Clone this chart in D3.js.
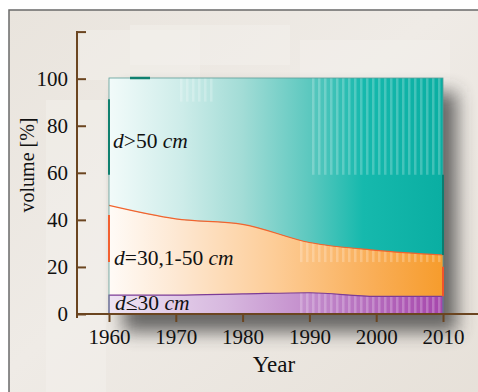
<!DOCTYPE html>
<html>
<head>
<meta charset="utf-8">
<script src="https://cdn.jsdelivr.net/npm/d3@7"></script>
<style>
  body { margin: 0; background: #fff; }
  text { font-family: "Liberation Serif", "Times New Roman", serif; fill: #111; }
</style>
</head>
<body>
<svg id="chart" width="478" height="392"></svg>
<script>
// data (share of volume, %)
var years  = [1960, 1970, 1980, 1990, 2000, 2010];
var small  = [8, 8, 8.5, 9, 7.5, 7.5];           // d <= 30 cm
var medium = [38, 32.3, 29.5, 21.3, 19.5, 17.5]; // d = 30,1-50 cm
var large  = [54, 59.7, 62, 69.7, 73, 75];       // d > 50 cm
var yTicks = [0, 20, 40, 60, 80, 100, 120];

var svg = d3.select("#chart");
var defs = svg.append("defs");

var x = d3.scaleLinear().domain([1960, 2010]).range([109, 443]);
var y = d3.scaleLinear().domain([0, 100]).range([314, 78]);

// ----- background -----
var bg = defs.append("linearGradient").attr("id", "bg")
    .attr("x1", 0).attr("y1", 0).attr("x2", 1).attr("y2", 1);
bg.append("stop").attr("offset", 0).attr("stop-color", "#e9e4dd");
bg.append("stop").attr("offset", 0.45).attr("stop-color", "#efebe6");
bg.append("stop").attr("offset", 1).attr("stop-color", "#e6e0d8");

svg.append("rect").attr("x", 0).attr("y", 0).attr("width", 478).attr("height", 392).attr("fill", "#fff");
svg.append("rect").attr("x", 9).attr("y", 10).attr("width", 480).attr("height", 400)
    .attr("fill", "url(#bg)").attr("stroke", "#6a6a6a").attr("stroke-width", 1.5);

// faint panels in the background
[[80, 30, 120, 50], [130, 25, 160, 40], [46, 100, 60, 440], [300, 40, 150, 60]].forEach(function(r) {
  svg.append("rect").attr("x", r[0]).attr("y", r[1]).attr("width", r[2]).attr("height", r[3])
      .attr("fill", "#f4f1ed").attr("opacity", 0.45);
});

// ----- drop shadow -----
var sh = defs.append("filter").attr("id", "shadow")
    .attr("x", "-20%").attr("y", "-20%").attr("width", "150%").attr("height", "150%");
sh.append("feGaussianBlur").attr("stdDeviation", 9);

svg.append("rect")
    .attr("x", x(1960) + 14).attr("y", y(100) + 14)
    .attr("width", x(2010) - x(1960)).attr("height", y(0) - y(100) + 4)
    .attr("fill", "#3a3a3a").attr("opacity", 0.75)
    .attr("filter", "url(#shadow)");

// ----- gradients for areas -----
function grad(id, stops) {
  var g = defs.append("linearGradient").attr("id", id)
      .attr("gradientUnits", "userSpaceOnUse")
      .attr("x1", x(1960)).attr("x2", x(2010)).attr("y1", 0).attr("y2", 0);
  stops.forEach(function(s) {
    g.append("stop").attr("offset", s[0]).attr("stop-color", s[1]);
  });
}
grad("gLarge", [[0, "#f2fbfa"], [0.22, "#cdece9"], [0.4, "#a2dcd6"], [0.6, "#5cc8bf"], [0.76, "#16b9ad"], [1, "#0aaea2"]]);
grad("gMedium", [[0, "#fffbf7"], [0.2, "#fde8d3"], [0.5, "#fdcc96"], [0.8, "#f9ad55"], [1, "#f69c2c"]]);
grad("gSmall", [[0, "#eee4f3"], [0.35, "#d7b8df"], [0.7, "#bb7bc4"], [1, "#a646ac"]]);

// stripe pattern used as texture
var pat = defs.append("pattern").attr("id", "stripes")
    .attr("patternUnits", "userSpaceOnUse").attr("width", 6).attr("height", 10);
pat.append("rect").attr("x", 0).attr("y", 0).attr("width", 2.5).attr("height", 10)
    .attr("fill", "#ffffff").attr("opacity", 0.22);

// ----- stacked areas -----
var rows = years.map(function(yr, i) {
  return { year: yr, small: small[i], medium: medium[i], large: large[i] };
});
var stack = d3.stack().keys(["small", "medium", "large"]);
var series = stack(rows);
var fills = { small: "url(#gSmall)", medium: "url(#gMedium)", large: "url(#gLarge)" };

var area = d3.area()
    .x(function(d) { return x(d.data.year); })
    .y0(function(d) { return y(d[0]); })
    .y1(function(d) { return y(d[1]); })
    .curve(d3.curveMonotoneX);

var plot = svg.append("g");
plot.selectAll("path.layer")
    .data(series)
    .enter().append("path")
    .attr("class", "layer")
    .attr("d", area)
    .attr("fill", function(s) { return fills[s.key]; });

// textured patches
var clipS = defs.append("clipPath").attr("id", "clipSmall");
clipS.append("path").attr("d", area(series[0]));
var clipM = defs.append("clipPath").attr("id", "clipMed");
clipM.append("path").attr("d", area(series[1]));

plot.append("rect").attr("x", 310).attr("y", y(100)).attr("width", x(2010) - 310).attr("height", y(59) - y(100))
    .attr("fill", "url(#stripes)");
plot.append("rect").attr("x", 298).attr("y", y(33)).attr("width", x(2010) - 298).attr("height", y(22) - y(33))
    .attr("fill", "url(#stripes)").attr("clip-path", "url(#clipMed)");
plot.append("rect").attr("x", 297).attr("y", y(12)).attr("width", x(2010) - 297).attr("height", y(0) - y(12))
    .attr("fill", "url(#stripes)").attr("clip-path", "url(#clipSmall)");
plot.append("rect").attr("x", 178).attr("y", y(100)).attr("width", 36).attr("height", y(90) - y(100))
    .attr("fill", "url(#stripes)");

// boundary lines
var line = d3.line()
    .x(function(d) { return x(d.data.year); })
    .y(function(d) { return y(d[1]); })
    .curve(d3.curveMonotoneX);
plot.append("path").attr("d", line(series[1])).attr("fill", "none")
    .attr("stroke", "#f2642e").attr("stroke-width", 1.2);
plot.append("path").attr("d", area(series[0])).attr("fill", "none")
    .attr("stroke", "#7c3c96").attr("stroke-width", 1.2);
plot.append("rect").attr("x", x(1960)).attr("y", y(100)).attr("width", x(2010) - x(1960)).attr("height", y(0) - y(100))
    .attr("fill", "none").attr("stroke", "#5d9e98").attr("stroke-width", 0.8);

// edge accents
plot.append("line").attr("x1", x(1960)).attr("x2", x(1960)).attr("y1", y(91)).attr("y2", y(59))
    .attr("stroke", "#10806f").attr("stroke-width", 2);
plot.append("line").attr("x1", x(1960)).attr("x2", x(1960)).attr("y1", y(42)).attr("y2", y(22))
    .attr("stroke", "#f26030").attr("stroke-width", 2);
plot.append("line").attr("x1", 130).attr("x2", 150).attr("y1", y(100)).attr("y2", y(100))
    .attr("stroke", "#10806f").attr("stroke-width", 2.5);
plot.append("line").attr("x1", x(2010)).attr("x2", x(2010)).attr("y1", y(59)).attr("y2", y(25))
    .attr("stroke", "#0b7d70").attr("stroke-width", 2);
plot.append("line").attr("x1", x(2010)).attr("x2", x(2010)).attr("y1", y(20)).attr("y2", y(7.5))
    .attr("stroke", "#f2542a").attr("stroke-width", 2);

// ----- axes -----
var axisColor = "#6b4520";
var yAxis = svg.append("g").attr("transform", "translate(77,0)")
    .call(d3.axisLeft(y.copy().domain([0, 120]).range([314, 31.6]))
      .tickValues(yTicks).tickSizeInner(-9).tickSizeOuter(0).tickPadding(9)
      .tickFormat(function(d) { return d === 120 ? "" : d; }));
yAxis.select(".domain").remove();
yAxis.selectAll(".tick line").attr("stroke", axisColor).attr("stroke-width", 2);
yAxis.selectAll(".tick text").attr("font-size", 21).attr("font-family", "Liberation Serif").attr("fill", "#111");
svg.append("line").attr("x1", 77).attr("x2", 77).attr("y1", 31).attr("y2", 318)
    .attr("stroke", axisColor).attr("stroke-width", 2);

var xAxis = svg.append("g").attr("transform", "translate(0,314)")
    .call(d3.axisBottom(x).tickValues(years).tickSizeInner(8).tickSizeOuter(0).tickPadding(7)
      .tickFormat(d3.format("d")));
xAxis.select(".domain").remove();
xAxis.selectAll(".tick line").attr("stroke", axisColor).attr("stroke-width", 2);
xAxis.selectAll(".tick text").attr("font-size", 21).attr("font-family", "Liberation Serif").attr("fill", "#111");
svg.append("line").attr("x1", 76).attr("x2", 478).attr("y1", 314).attr("y2", 314)
    .attr("stroke", axisColor).attr("stroke-width", 2);

// axis titles
svg.append("text").attr("transform", "translate(34,165) rotate(-90)")
    .attr("text-anchor", "middle").attr("font-size", 20).text("volume [%]");
svg.append("text").attr("x", 274).attr("y", 372)
    .attr("text-anchor", "middle").attr("font-size", 23).text("Year");

// layer labels
function label(xp, yp, parts) {
  var t = svg.append("text").attr("x", xp).attr("y", yp).attr("font-size", 21.5);
  parts.forEach(function(p) {
    t.append("tspan").attr("font-style", p[1] ? "italic" : "normal").text(p[0]);
  });
}
label(113, 148, [["d", 1], [">50 ", 0], ["cm", 1]]);
label(114, 265, [["d", 1], ["=30,1-50 ", 0], ["cm", 1]]);
label(115, 310, [["d", 1], ["≤30 ", 0], ["cm", 1]]);
</script>
</body>
</html>
